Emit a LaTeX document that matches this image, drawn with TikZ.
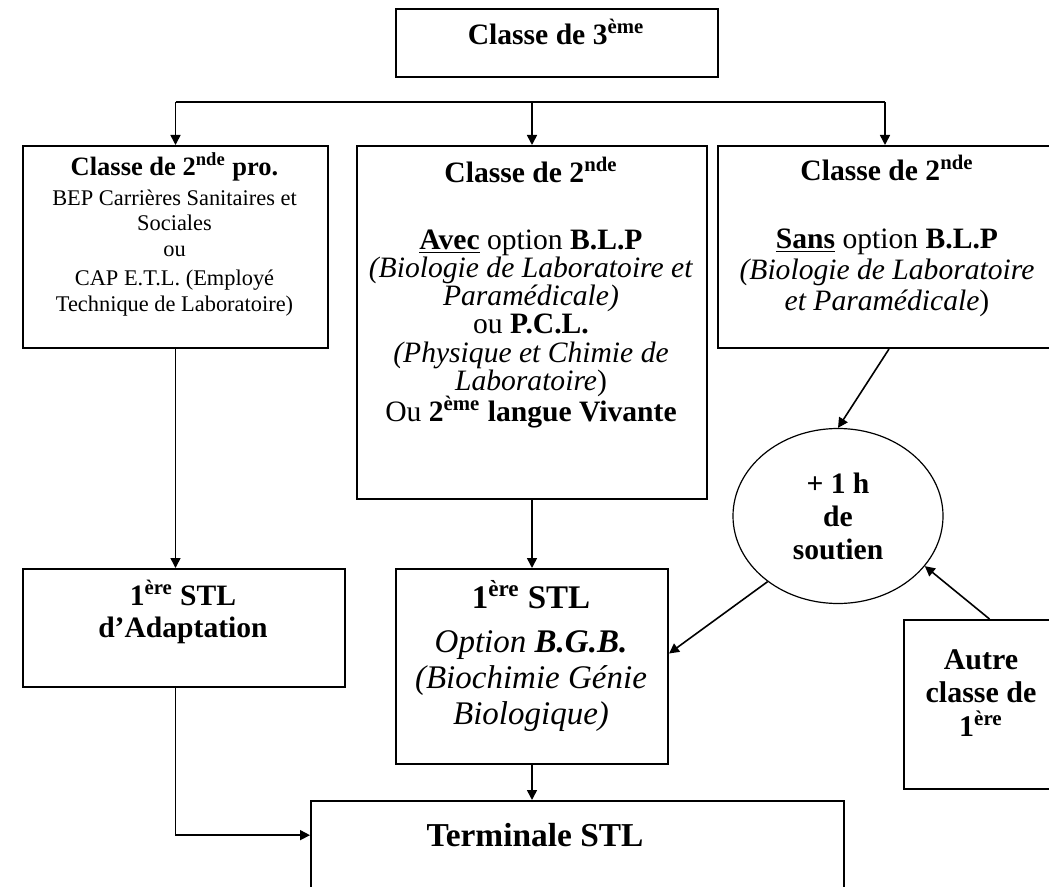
\documentclass[tikz,border=0pt]{standalone}
\usepackage{fontspec}
\setmainfont{Liberation Serif}
\usetikzlibrary{arrows.meta,shapes.geometric}
\newcommand{\s}{0.5pt}
\newcommand{\expo}[1]{\textsuperscript{#1}}
\newcommand{\serre}{\setlength{\lineskiplimit}{-20pt}}

\begin{document}
\begin{tikzpicture}[x=\s, y=-\s,
    rect/.style={draw, rectangle, anchor=north west, line width=1pt, inner sep=0pt},
    txt/.style={anchor=north, align=center, inner sep=0pt},
    fleche/.style={line width=0.8pt, -{Triangle[length=5pt,width=5pt]}}]
    \useasboundingbox (0,0) rectangle (1049,887);
    \clip (0,0) rectangle (1049,887);

    % Troisieme
    \node[rect, minimum width=322*\s, minimum height=68*\s] (troisieme) at (395,8) {};
    \node[txt, font=\fontsize{14.8}{17}\selectfont\bfseries] (troisieme-texte) at (556,19) {Classe de 3\expo{ème}};

    % Seconde
    \node[rect, minimum width=305*\s, minimum height=202*\s] (seconde-pro) at (22,145) {};
    \node[rect, minimum width=350*\s, minimum height=353*\s] (seconde-avec) at (356,145) {};
    \node[rect, minimum width=334*\s, minimum height=202*\s] (seconde-sans) at (717,145) {};

    \node[txt, font=\fontsize{11.2}{12.75}\selectfont\serre] (seconde-pro-texte) at (174.5,152)
        {{\fontsize{13.25}{15}\selectfont\bfseries Classe de 2\expo{nde} pro.}\\[2pt]
         BEP Carrières Sanitaires et\\ Sociales\\ ou\\[2pt] CAP E.T.L. (Employé\\ Technique de Laboratoire)};
    \node[txt, font=\fontsize{14.8}{14.1}\selectfont\serre] (seconde-avec-texte) at (531,157)
        {\textbf{Classe de 2\expo{nde}}\\[19.4pt]
         \underline{\textbf{Avec}} option \textbf{B.L.P}\\
         \textit{(Biologie de Laboratoire et}\\
         \textit{Paramédicale)}\\
         ou \textbf{P.C.L.}\\
         \textit{(Physique et Chimie de}\\
         \textit{Laboratoire})\\[1.5pt]
         Ou \textbf{2\expo{ème} langue Vivante}};
    \node[txt, font=\fontsize{14.8}{15.5}\selectfont\serre] (seconde-sans-texte) at (887,155)
        {\textbf{Classe de 2\expo{nde}}\\[18.5pt]
         \underline{\textbf{Sans}} option \textbf{B.L.P}\\
         \textit{(Biologie de Laboratoire}\\
         \textit{et Paramédicale})};

    % Soutien
    \node[draw, ellipse, line width=0.6pt, minimum width=210*\s, minimum height=175*\s, inner sep=0pt,
        align=center, font=\fontsize{14.8}{16.5}\selectfont\bfseries] (soutien) at (838,516) {+ 1 h\\ de\\ soutien};

    % Premiere
    \node[rect, minimum width=322*\s, minimum height=118*\s] (premiere-adapt) at (22,568) {};
    \node[rect, minimum width=272*\s, minimum height=195*\s] (premiere-bgb) at (395,568) {};
    \node[rect, minimum width=157*\s, minimum height=169*\s] (autre) at (903,619) {};

    \node[txt, font=\fontsize{14.8}{16}\selectfont\bfseries] (premiere-adapt-texte) at (183,580) {1\expo{ère} STL\\ d’Adaptation};
    \node[txt, font=\fontsize{16.5}{18}\selectfont] (premiere-bgb-texte) at (531,580)
        {\textbf{1\expo{ère} STL}\\[4pt]
         \textit{Option \textbf{B.G.B.}}\\
         \textit{(Biochimie Génie}\\
         \textit{Biologique)}};
    \node[txt, font=\fontsize{15}{16.8}\selectfont\bfseries\serre] (autre-texte) at (981,649) {Autre\\ classe de\\ 1\expo{ère}};

    % Terminale
    \node[rect, minimum width=533*\s, minimum height=150*\s] (terminale) at (310,800) {};
    \node[txt, font=\fontsize{16.7}{19}\selectfont\bfseries] (terminale-texte) at (535,823) {Terminale STL};

    % Fleches
    \coordinate (branche) at (531,102);
    \draw[line width=0.8pt] (seconde-pro.north |- branche) -- (seconde-sans.north |- branche);
    \draw[fleche] (seconde-pro.north |- branche) -- (seconde-pro.north);
    \draw[fleche] (seconde-avec.north |- branche) -- (seconde-avec.north);
    \draw[fleche] (seconde-sans.north |- branche) -- (seconde-sans.north);
    \draw[fleche] (seconde-pro.south) -- (seconde-pro.south |- premiere-adapt.north);
    \draw[fleche] (seconde-avec.south) -- (premiere-bgb.north);
    \draw[fleche] ([xshift=2pt]seconde-sans.south) -- (soutien.north);
    \draw[fleche] ([xshift=3.5pt]autre.north) -- (soutien.330);
    \draw[fleche] (soutien.223) -- ([yshift=6.5pt]premiere-bgb.east);
    \draw[fleche] (premiere-adapt.south -| seconde-pro.south) |- (terminale.west |- terminale-texte);
    \draw[fleche] (premiere-bgb.south) -- (premiere-bgb.south |- terminale.north);

\end{tikzpicture}
\end{document}
